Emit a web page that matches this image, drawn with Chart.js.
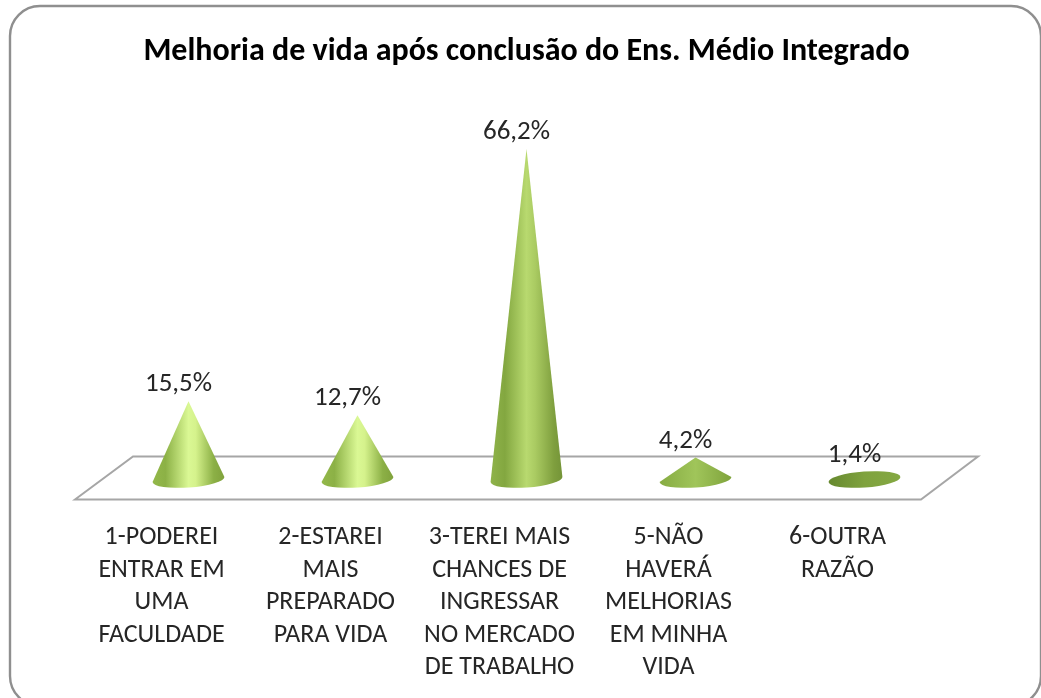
<!DOCTYPE html>
<html><head><meta charset="utf-8">
<style>html,body{margin:0;padding:0;background:#fff}#w{position:absolute;left:0;top:0;width:1041px;height:698px}</style>
<script src="https://cdn.jsdelivr.net/npm/chart.js@4"></script></head>
<body><div id="w"><canvas id="c" width="1041" height="698"></canvas></div>
<script>
const categories=[["1-PODEREI","ENTRAR EM","UMA","FACULDADE"],["2-ESTAREI","MAIS","PREPARADO","PARA VIDA"],["3-TEREI MAIS","CHANCES DE","INGRESSAR","NO MERCADO","DE TRABALHO"],["5-NÃO","HAVERÁ","MELHORIAS","EM MINHA","VIDA"],["6-OUTRA","RAZÃO"]];
const values=[15.5,12.7,66.2,4.2,1.4];
const valueLabels=["15,5%","12,7%","66,2%","4,2%","1,4%"];
const titleText="Melhoria de vida após conclusão do Ens. Médio Integrado";
const FONT='Carlito, "Open Sans", "Noto Sans", sans-serif';
const frame={id:'frame',beforeDraw(ch){const x=ch.ctx;x.save();x.fillStyle='#fff';x.fillRect(0,0,1041,698);
 x.beginPath();x.roundRect(10,6,1031,700,30);x.strokeStyle='#8f8f8f';x.lineWidth=2.4;x.stroke();
 const s=ch.scales.x,y0=ch.scales.y.getPixelForValue(0);
 x.beginPath();x.moveTo(s.left-29,y0+21);x.lineTo(s.left+29,y0-22);x.lineTo(s.right+29,y0-22);x.lineTo(s.right-28,y0+21);x.closePath();
 x.fillStyle='#fff';x.fill();x.strokeStyle='#a6a6a6';x.lineWidth=2;x.stroke();x.restore();}};
const TILT=-0.07;
const cones={id:'cones',afterDatasetsDraw(ch){const x=ch.ctx,m=ch.getDatasetMeta(0);x.save();
 m.data.forEach((b,i)=>{const rx=36,ry=8,cx=b.x,by=b.base+1,ty=b.y,h=by-ty;
  const g=x.createLinearGradient(cx-rx,0,cx+rx,0);
  if(h<12){
   g.addColorStop(0,'#66892f');g.addColorStop(.5,'#7fa23e');g.addColorStop(1,'#84a842');
   x.beginPath();x.ellipse(cx,by,rx,ry,TILT,0,Math.PI*2);x.fillStyle=g;x.fill();return;}
  if(h<40){g.addColorStop(0,'#86ab42');g.addColorStop(.5,'#a0c55a');g.addColorStop(1,'#7fa33c');}
  else if(h<150){g.addColorStop(0,'#93b84a');g.addColorStop(.18,'#8cb146');g.addColorStop(.5,'#daf894');g.addColorStop(.6,'#d5f28c');g.addColorStop(.85,'#8cb046');g.addColorStop(1,'#80a23c');}
  else{g.addColorStop(0,'#8fb34a');g.addColorStop(.2,'#83a740');g.addColorStop(.5,'#b8d96f');g.addColorStop(.62,'#aacb62');g.addColorStop(.88,'#7f9f3e');g.addColorStop(1,'#749438');}
  const dx=rx*Math.cos(TILT),dy=rx*Math.sin(TILT);
  x.beginPath();x.moveTo(cx,ty);x.lineTo(cx+dx,by+dy);x.ellipse(cx,by,rx,ry,TILT,0,Math.PI);x.closePath();x.fillStyle=g;x.fill();
 });x.restore();}};
new Chart(document.getElementById('c'),{type:'bar',
 data:{labels:categories,datasets:[{data:values,backgroundColor:'rgba(0,0,0,0)',barPercentage:.43,categoryPercentage:1}]},
 plugins:[frame,cones,{id:'vals',afterDraw(ch){const x=ch.ctx,m=ch.getDatasetMeta(0);x.save();x.font='27px '+FONT;x.fillStyle='#262626';x.textAlign='center';x.textBaseline='alphabetic';
   m.data.forEach((b,i)=>x.fillText(valueLabels[i],b.x-10,b.y-10));x.restore();}}],
 options:{responsive:false,animation:false,events:[],
  layout:{padding:{left:104,right:92,top:0,bottom:-29}},
  plugins:{legend:{display:false},tooltip:{enabled:false},
   title:{display:true,text:titleText,color:'#000',font:{family:FONT,size:32,weight:'bold'},padding:{top:33,bottom:9}}},
  scales:{x:{grid:{display:false,drawTicks:false},border:{display:false},ticks:{color:'#262626',font:{family:FONT,size:26,lineHeight:1.25},padding:43,labelOffset:-27,maxRotation:0,autoSkip:false}},
   y:{display:false,min:0,max:80}}}});
</script></body></html>
